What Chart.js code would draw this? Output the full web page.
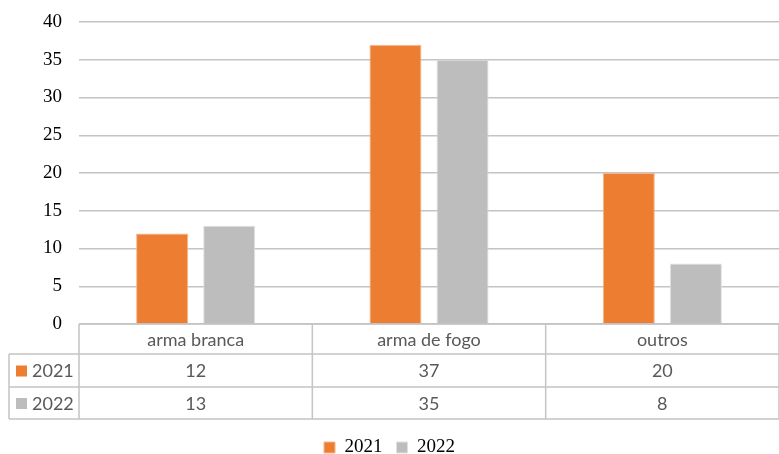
<!DOCTYPE html>
<html>
<head>
<meta charset="utf-8">
<script src="https://cdn.jsdelivr.net/npm/chart.js@4"></script>
<style>
  html, body { margin: 0; padding: 0; background: #fff; }
  #wrap { width: 779px; height: 454px; }
</style>
</head>
<body>
<div id="wrap"><canvas id="chart"></canvas></div>
<script>
// data
const categories = ['arma branca', 'arma de fogo', 'outros'];
const seriesNames = ['2021', '2022'];
const values2021 = [12, 37, 20];
const values2022 = [13, 35, 8];
const yTicks = [0, 5, 10, 15, 20, 25, 30, 35, 40];

const ORANGE = '#ED7D31';
const GRAY = '#BDBDBD';
const LINE = '#C4C4C4';
const SERIF = "'Liberation Serif', 'Times New Roman', serif";
const SANS = "Lato, 'Open Sans', sans-serif";

// data table drawn under the plot, Excel style
const dataTable = {
  id: 'dataTable',
  afterDraw(chart) {
    const ctx = chart.ctx;
    const x = chart.scales.x;
    const area = chart.chartArea;
    const top = area.bottom;
    const rows = [top, top + 30, top + 63, top + 95];
    const leftCol = 9;
    const colW = (area.right - area.left) / categories.length;
    const series = [
      { name: seriesNames[0], color: ORANGE, data: values2021 },
      { name: seriesNames[1], color: GRAY, data: values2022 }
    ];

    ctx.save();
    ctx.strokeStyle = LINE;
    ctx.lineWidth = 1.5;
    ctx.beginPath();
    // horizontal lines
    ctx.moveTo(area.left, rows[0]); ctx.lineTo(area.right, rows[0]);
    for (let r = 1; r < rows.length; r++) {
      ctx.moveTo(leftCol, rows[r]); ctx.lineTo(area.right, rows[r]);
    }
    // vertical lines
    ctx.moveTo(leftCol, rows[1]); ctx.lineTo(leftCol, rows[3]);
    for (let c = 0; c <= categories.length; c++) {
      const cx = area.left + c * colW;
      ctx.moveTo(cx, rows[0]); ctx.lineTo(cx, rows[3]);
    }
    ctx.stroke();

    ctx.fillStyle = '#595959';
    ctx.font = '18px ' + SANS;
    ctx.textAlign = 'center';
    ctx.textBaseline = 'middle';
    categories.forEach((cat, i) => {
      const cx = x.getPixelForValue(i);
      ctx.fillText(cat, cx, (rows[0] + rows[1]) / 2 + 1);
      series.forEach((s, j) => {
        ctx.fillText(String(s.data[i]), cx, (rows[j + 1] + rows[j + 2]) / 2 + 1);
      });
    });

    ctx.textAlign = 'left';
    series.forEach((s, j) => {
      const cy = (rows[j + 1] + rows[j + 2]) / 2;
      ctx.fillStyle = s.color;
      ctx.fillRect(16, cy - 5, 11, 11);
      ctx.fillStyle = '#595959';
      ctx.fillText(s.name, 32, cy + 1);
    });
    ctx.restore();
  }
};

new Chart(document.getElementById('chart'), {
  type: 'bar',
  data: {
    labels: categories,
    datasets: [
      { label: seriesNames[0], data: values2021, backgroundColor: ORANGE, borderColor: '#F6B68C', borderWidth: 1 },
      { label: seriesNames[1], data: values2022, backgroundColor: GRAY, borderColor: '#E0E0E0', borderWidth: 1 }
    ]
  },
  options: {
    responsive: true,
    maintainAspectRatio: false,
    animation: false,
    categoryPercentage: 0.575,
    barPercentage: 0.776,
    layout: { padding: { top: 22, right: 0, left: 0, bottom: -13 } },
    plugins: {
      tooltip: { enabled: false },
      legend: {
        position: 'bottom',
        labels: {
          color: '#000',
          font: { family: SERIF, size: 19, lineHeight: '11px' },
          boxWidth: 11,
          boxHeight: 11,
          padding: 14
        }
      }
    },
    scales: {
      x: {
        grid: { display: false },
        border: { display: false },
        ticks: { display: false },
        afterFit(scale) { scale.height = 100; }
      },
      y: {
        min: 0,
        max: 40,
        afterBuildTicks(scale) { scale.ticks = yTicks.map(v => ({ value: v })); },
        grid: { color: LINE, lineWidth: 1.5, drawTicks: false },
        border: { display: false },
        ticks: {
          color: '#000',
          font: { family: SERIF, size: 19 },
          padding: 17
        },
        afterFit(scale) {
          scale.width = 79;
          scale.paddingTop = 0;
          scale.paddingBottom = 0;
        }
      }
    }
  },
  plugins: [dataTable]
});
</script>
</body>
</html>
